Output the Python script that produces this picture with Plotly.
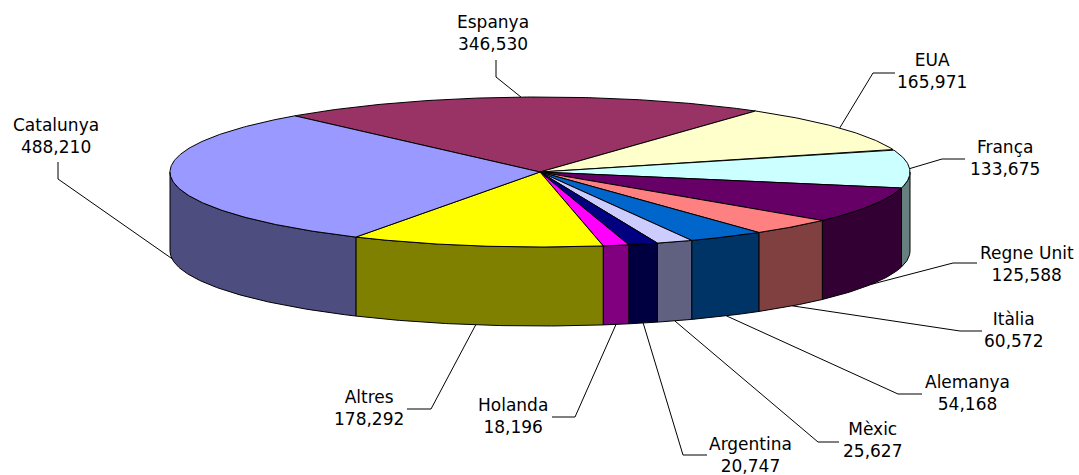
import numpy as np
import plotly.graph_objects as go

# ---- data ----
countries = ["Espanya", "EUA", "França", "Regne Unit", "Itàlia", "Alemanya",
             "Mèxic", "Argentina", "Holanda", "Altres", "Catalunya"]
values = [346530, 165971, 133675, 125588, 60572, 54168,
          25627, 20747, 18196, 178292, 488210]

# ---- styles ----
top_colors = ["#993366", "#FFFFCC", "#CCFFFF", "#660066", "#FF8080", "#0066CC",
              "#CCCCFF", "#000080", "#FF00FF", "#FFFF00", "#9999FF"]
side_colors = ["#4D1933", "#808066", "#668080", "#330033", "#804040", "#003366",
               "#606080", "#000040", "#800080", "#808000", "#4D4D80"]

# label text centres and leader-line geometry (label end, elbow)
label_pos = [(493, 33), (932, 71), (1005, 158), (1027, 264), (1013, 330), (967, 393),
             (872, 440), (750, 455), (513, 416), (369, 408), (56, 136)]
leader_start = [(496, 60), (895, 73), (965, 159), (977, 263), (982, 331), (922, 394),
                (839, 442), (707, 455), (552, 417), (407, 409), (58, 162)]
leader_elbow = [(496, 77), (873, 73), (942, 159), (953, 263), (960, 331), (898, 394),
                (818, 442), (683, 455), (575, 417), (431, 409), (58, 179)]

W, H = 1079, 475
cx, cy, ra, rb, depth = 540.0, 172.0, 370.0, 75.0, 79.0
start_angle = 131.5

total = float(sum(values))
spans = [v / total * 360.0 for v in values]
bounds = [start_angle]
for s in spans:
    bounds.append(bounds[-1] - s)


def arc(a1, a2, dy=0.0):
    n = max(2, int(abs(a1 - a2) * 2) + 1)
    t = np.radians(np.linspace(a1, a2, n))
    return cx + ra * np.cos(t), cy - rb * np.sin(t) + dy


fig = go.Figure()

# side walls (front half only)
for i in range(len(values)):
    a1, a2 = bounds[i], bounds[i + 1]  # a1 > a2
    for shift in (0, -360, 360):
        lo, hi = max(a2 + shift, -180.0), min(a1 + shift, 0.0)
        if hi > lo:
            xt, yt = arc(hi, lo)
            xb, yb = arc(lo, hi, depth)
            xs = np.concatenate([xt, xb, xt[:1]])
            ys = np.concatenate([yt, yb, yt[:1]])
            fig.add_trace(go.Scatter(x=xs, y=ys, mode="lines", fill="toself",
                                     fillcolor=side_colors[i],
                                     line=dict(color="black", width=1),
                                     hoverinfo="skip", showlegend=False))

# top faces
for i in range(len(values)):
    a1, a2 = bounds[i], bounds[i + 1]
    xa, ya = arc(a1, a2)
    xs = np.concatenate([[cx], xa, [cx]])
    ys = np.concatenate([[cy], ya, [cy]])
    fig.add_trace(go.Scatter(x=xs, y=ys, mode="lines", fill="toself",
                             fillcolor=top_colors[i],
                             line=dict(color="black", width=1),
                             hoverinfo="skip", showlegend=False))

# leader lines and labels
for i, name in enumerate(countries):
    m = (bounds[i] + bounds[i + 1]) / 2.0
    mr = np.radians(m)
    ax = cx + ra * np.cos(mr)
    ay = cy - rb * np.sin(mr)
    if np.sin(mr) < 0:
        ay += depth
    sx, sy = leader_start[i]
    ex, ey = leader_elbow[i]
    fig.add_trace(go.Scatter(x=[sx, ex, ax], y=[sy, ey, ay], mode="lines",
                             line=dict(color="black", width=1),
                             hoverinfo="skip", showlegend=False))
    lx, ly = label_pos[i]
    fig.add_annotation(x=lx, y=ly, text=f"{name}<br>{values[i]:,}",
                       showarrow=False, align="center",
                       xanchor="center", yanchor="middle",
                       font=dict(family="DejaVu Sans, Arial, sans-serif",
                                 size=17, color="black"))

fig.update_layout(
    width=W, height=H,
    margin=dict(l=0, r=0, t=0, b=0),
    paper_bgcolor="white", plot_bgcolor="white",
    xaxis=dict(range=[0, W], visible=False, fixedrange=True),
    yaxis=dict(range=[H, 0], visible=False, fixedrange=True),
    hovermode=False,
    showlegend=False,
)

fig.write_html("out.html", config={"displayModeBar": False},
               post_script="document.body.style.margin='0';")
